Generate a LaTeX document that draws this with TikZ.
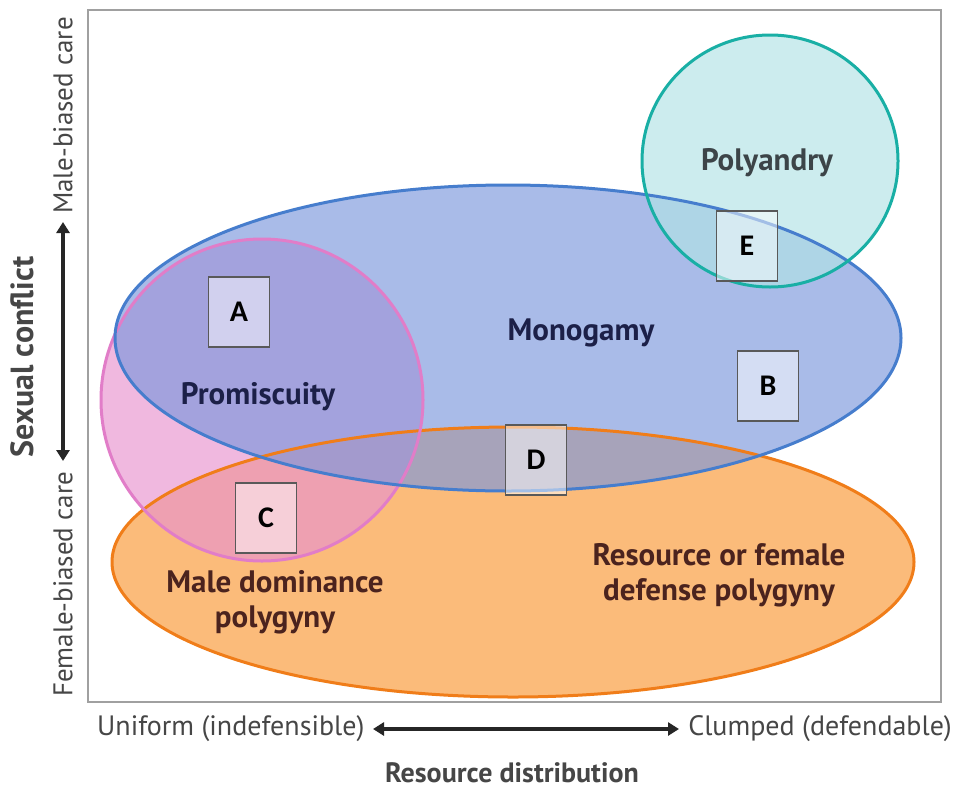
\documentclass[tikz,border=0pt]{standalone}
\usepackage{fontspec}
\newfontfamily\axfont{PT Sans}
\newfontfamily\boxfont{Carlito}
\usetikzlibrary{arrows.meta}
\definecolor{blueF}{RGB}{123,151,221}
\definecolor{blueS}{RGB}{70,125,205}
\definecolor{pinkF}{RGB}{232,146,207}
\definecolor{pinkS}{RGB}{225,125,200}
\definecolor{orangeF}{RGB}{249,151,51}
\definecolor{orangeS}{RGB}{240,125,25}
\definecolor{tealF}{RGB}{178,227,230}
\definecolor{tealS}{RGB}{25,175,165}
\definecolor{navyT}{RGB}{28,32,72}
\definecolor{grayT}{RGB}{60,68,72}
\definecolor{brownT}{RGB}{75,35,30}
\definecolor{axgray}{RGB}{70,70,70}
\definecolor{framegray}{RGB}{160,160,160}
\tikzset{
  regionfill/.style={fill opacity=0.65},
  regionline/.style={line width=3pt},
  letterbox/.style={draw=black!65, line width=1.3pt, fill=white, fill opacity=0.5, text opacity=1,
    minimum width=61pt, minimum height=70pt, inner sep=0pt,
    font=\boxfont\bfseries\fontsize{30}{30}\selectfont},
  regionlabel/.style={font=\axfont\bfseries\fontsize{31}{35}\selectfont, align=center, inner sep=0pt},
  axlabel/.style={font=\axfont\fontsize{28}{28}\selectfont, text=axgray, inner sep=0pt},
  axarrow/.style={line width=3.5pt, draw=black!85, {Triangle[length=11pt,width=13pt]}-{Triangle[length=11pt,width=13pt]}}
}
\begin{document}
\begin{tikzpicture}[x=1pt,y=-1pt]
\useasboundingbox (0,0) rectangle (955,790);
\fill[white] (0,0) rectangle (955,790);
\draw[framegray, line width=2pt] (88,10) rectangle (941,702);
% fills
\fill[orangeF, regionfill] (513,562) ellipse [x radius=401, y radius=135];
\fill[pinkF, regionfill] (262,400) ellipse [x radius=161, y radius=161];
\fill[blueF, regionfill] (508,338) ellipse [x radius=393, y radius=153];
\fill[tealF, regionfill] (770,161) ellipse [x radius=128, y radius=126];
% outlines
\draw[orangeS, regionline] (513,562) ellipse [x radius=401, y radius=135];
\draw[pinkS, regionline] (262,400) ellipse [x radius=161, y radius=161];
\draw[blueS, regionline] (508,338) ellipse [x radius=393, y radius=153];
\draw[tealS, regionline] (770,161) ellipse [x radius=128, y radius=126];
% letter boxes
\node[letterbox] (A) at (239,312) {A};
\node[letterbox] (E) at (747,246) {E};
\node[letterbox] (B) at (768,386) {B};
\node[letterbox] (D) at (536,460) {D};
\node[letterbox] (C) at (266,518) {C};
% region labels
\node[regionlabel, text=grayT] (poly) at (767,163) {Polyandry};
\node[regionlabel, text=navyT] (mono) at (581,333) {Monogamy};
\node[regionlabel, text=navyT] (prom) at (258,397) {Promiscuity};
\node[regionlabel, text=brownT] (mdp) at (275,602) {Male dominance\\polygyny};
\node[regionlabel, text=brownT] (rfd) at (719,575) {Resource or female\\defense polygyny};
% x axis
\node[axlabel, anchor=west] (unif) at (97,729) {Uniform (indefensible)};
\node[axlabel, anchor=east] (clump) at (952,729) {Clumped (defendable)};
\coordinate (xa) at (373,729);
\coordinate (xb) at (679,729);
\draw[axarrow] (xa) -- (xb);
\node[axlabel, font=\axfont\bfseries\fontsize{28}{28}\selectfont] (resd) at (512,773) {Resource distribution};
% y axis
\node[axlabel, rotate=90, anchor=east, font=\axfont\fontsize{27}{27}\selectfont] (male) at (63,17) {Male-biased care};
\node[axlabel, rotate=90, anchor=west, font=\axfont\fontsize{27}{27}\selectfont] (fem) at (63,697) {Female-biased care};
\coordinate (ya) at (63,222);
\coordinate (yb) at (63,461);
\draw[axarrow] (ya) -- (yb);
\node[axlabel, rotate=90, font=\axfont\bfseries\fontsize{32}{32}\selectfont] (sc) at (22,357) {Sexual conflict};
\end{tikzpicture}
\end{document}
